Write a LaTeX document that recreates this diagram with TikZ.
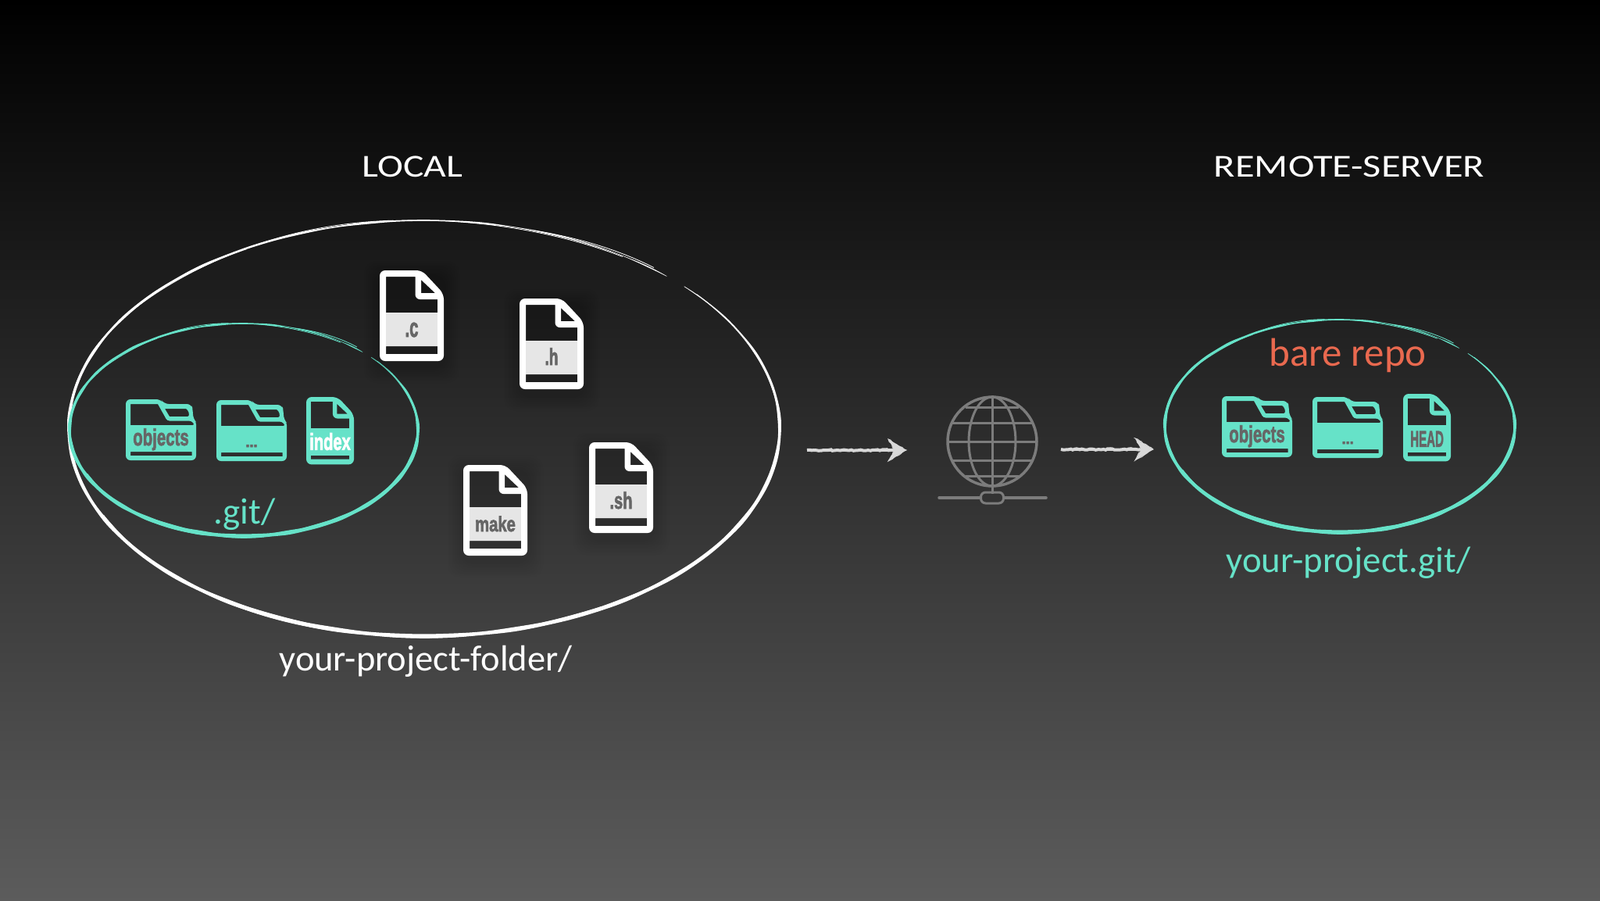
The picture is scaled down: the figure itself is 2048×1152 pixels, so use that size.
\documentclass[tikz,border=0pt]{standalone}
\usepackage{fontspec}
\setmainfont{Carlito}
\newfontfamily\iconfont{Liberation Sans}[BoldFeatures={FakeBold=2.6}]
\usetikzlibrary{arrows.meta,decorations.pathmorphing}
\definecolor{teal1}{HTML}{66E2C8}
\definecolor{salmon1}{HTML}{E9694F}
\definecolor{band1}{HTML}{E6E6E6}
\definecolor{icontext}{HTML}{666666}
\definecolor{globe1}{HTML}{7C7C7C}
\definecolor{chalk1}{HTML}{D8D8D8}
\newcommand{\iconlabel}[2]{\fontsize{#1}{#1}\selectfont\iconfont\bfseries #2}
\newcommand{\sketchring}[5]{%
  % cx cy rx ry colour
  \fill[#5] plot[domain=47:403,samples=361,variable=\t]
      ({#1+(#3+.5*th(\t-45,\t))*cos(\t)},{#2-(#4+.5*th(\t-45,\t))*sin(\t)})
    -- plot[domain=403:47,samples=361,variable=\t]
      ({#1+(#3-.5*th(\t-45,\t))*cos(\t)},{#2-(#4-.5*th(\t-45,\t))*sin(\t)}) -- cycle;
  \foreach \sa/\sb/\so/\sk in {50/72/-2.5/5,56/100/1.6/4,95/150/-1.8/6,120/175/1.2/5,205/262/-2.4/4,235/300/2.4/7,275/340/-1.8/5,300/350/1.4/6,350/400/-1.4/5}{
    \draw[#5,line width=.8pt] plot[domain=\sa:\sb,samples=50,variable=\t]
      ({#1+(#3+\so*sin(\sk*\t))*cos(\t)},{#2-(#4+\so*sin(\sk*\t))*sin(\t)});
  }%
}
\tikzset{
  x=1pt,y=-1pt,
  declare function={
    th(\d,\t)=max(.5,.7+4.3*min(min(1,\d/180),min(1,(360-\d)/60))+.35*sin(23*\t)+.25*sin(37*\t));
  },
  txt/.style={inner sep=0pt,font=\fontsize{#1}{#1}\selectfont},
  chalkarrow/.style={draw=chalk1,line width=3pt,-{Stealth[length=23pt,width=28pt,inset=8pt]}},
  chalkrough/.style={decorate,decoration={random steps,segment length=3pt,amplitude=.8pt}},
  chalkline/.style={draw=chalk1,line width=4pt,chalkrough},
  chalkedge/.style={draw=chalk1,line width=1pt,chalkrough},
  pics/filedrop/.style={code={
    \foreach \i in {1,...,8}{
      \fill[black,opacity=.014,rounded corners=16pt] (-\i*2.5,-\i*2.5+8) rectangle (82+\i*2.5,116+\i*2.5+8);
    }
  }},
  % colour, band colour, text, text colour, font size, xscale, strip top
  pics/fileicon/.style n args={7}{code={
    \fill[#1,even odd rule]
      [rounded corners=7pt] (0,0) -- (54,0) -- (82,30) -- (82,116) -- (0,116) -- cycle
      [rounded corners=0pt]
      (8,8) -- (45.5,8) [rounded corners=6pt] -- (45.5,37) [rounded corners=0pt] -- (74,37) -- (74,54) -- (8,54) -- cycle
      (53,12) -- (71,29) -- (53,29) -- cycle
      (8,#7) -- (74,#7) -- (74,107) -- (8,107) -- cycle;
    \fill[#2] (8,54) rectangle (74,#7);
    \node[inner sep=0pt,anchor=base,text=#4,xscale=#6] (-label) at (41,2*#7-109) {\iconlabel{#5}{#3}};
  }},
  % text, font size, xscale, text baseline
  pics/foldericon/.style n args={4}{code={
    \fill[teal1,even odd rule]
      [rounded corners=6pt] (0,0) -- (45,0) -- (49,6) -- (84,6) -- (86,14) -- (86,25) [rounded corners=3pt] -- (90,29) [rounded corners=6pt] -- (90,78) -- (0,78) -- cycle
      [rounded corners=0pt]
      (6,6) -- (41,6) [rounded corners=3pt] -- (53,27.5) -- (84,27.5) -- (88.5,33) [rounded corners=0pt] -- (6,33) -- cycle
      (50,12) -- (77,12) [rounded corners=2pt] -- (80.5,15) -- (81,22) [rounded corners=0pt] -- (56,22) -- cycle
      (6,67) -- (84.5,67) -- (84.5,72) -- (6,72) -- cycle;
    \node[inner sep=0pt,anchor=base,text=icontext,xscale=#3] (-label) at (45,#4) {\iconlabel{#2}{#1}};
  }},
}
\begin{document}
\begin{tikzpicture}
\useasboundingbox (0,0) rectangle (2048,1152);
\shade[top color=black,bottom color=black!64!white] (0,0) rectangle (2048,1152);

% sketched rings
\sketchring{543}{548}{455}{266}{white}
\sketchring{312}{550}{223}{136}{teal1}
\sketchring{1715}{545}{224}{136}{teal1}

% headings and captions
\node[txt=41,text=white,xscale=1.21] (local) at (528,213) {LOCAL};
\node[txt=41,text=white,xscale=1.23] (remote) at (1727,213) {REMOTE-SERVER};
\node[txt=47,text=teal1] (gitdir) at (313,658) {.git/};
\node[txt=46.5,text=white] (folder) at (545,846) {your-project-folder/};
\node[txt=51,text=salmon1] (bare) at (1725,455) {bare repo};
\node[txt=46.8,text=teal1] (bareproj) at (1726,720) {your-project.git/};

% local files
\pic at (486,346) {filedrop};
\pic at (665,382) {filedrop};
\pic at (593,595) {filedrop};
\pic at (754,566) {filedrop};
\pic (fc) at (486,346) {fileicon={white}{band1}{.c}{icontext}{34}{.6}{97}};
\pic (fh) at (665,382) {fileicon={white}{band1}{.h}{icontext}{30}{.64}{97}};
\pic (fm) at (593,595) {fileicon={white}{band1}{make}{icontext}{27}{.75}{97}};
\pic (fs) at (754,566) {fileicon={white}{band1}{.sh}{icontext}{30}{.67}{97}};

% .git content
\pic (lobj) at (161,511) {foldericon={objects}{30}{.68}{59}};
\pic (ldots) at (277,512) {foldericon={...}{20}{.9}{60}};
\pic[scale=.745] (lidx) at (392,508) {fileicon={teal1}{teal1}{index}{white}{30}{.67}{100}};

% bare repo content
\pic (robj) at (1564,507) {foldericon={objects}{30}{.68}{59}};
\pic (rdots) at (1680,508) {foldericon={...}{20}{.9}{60}};
\pic[scale=.745] (rhead) at (1796,504) {fileicon={teal1}{teal1}{HEAD}{icontext}{29}{.52}{100}};

% globe
\node[circle,draw=globe1,line width=3.5pt,minimum size=114pt,inner sep=0pt] (globe) at (1270,565) {};
\begin{scope}[globe1,line width=3pt]
  \draw (globe.north) -- (1270,632);
  \draw (1270,565) ellipse (30 and 57);
  \draw (1213,565) -- (1327,565);
  \draw (1218,541) -- (1322,541);
  \draw (1218,589) -- (1322,589);
  \draw (1236,521) -- (1304,521);
  \draw (1236,609) -- (1304,609);
\end{scope}
\node[draw=globe1,line width=3pt,rounded corners=6pt,minimum width=29pt,minimum height=14pt,inner sep=0pt] (hub) at (1270,637) {};
\coordinate (baseL) at (1202,637);
\coordinate (baseR) at (1339,637);
\draw[globe1,line width=3.5pt,line cap=round] (baseL) -- (hub.west);
\draw[globe1,line width=3.5pt,line cap=round] (hub.east) -- (baseR);

% arrows
\coordinate (a1s) at (1033,576);
\coordinate (a1e) at (1160,576);
\coordinate (a2s) at (1358,575);
\coordinate (a2e) at (1476,575);
\draw[chalkarrow] (a1s) -- (a1e);
\path[chalkline] (a1s) -- (1145,576);
\path[chalkedge] (a1e) -- ++(-23,-14) -- ++(8,14) -- ++(-8,14) -- cycle;
\draw[chalkarrow] (a2s) -- (a2e);
\path[chalkline] (a2s) -- (1460,575);
\path[chalkedge] (a2e) -- ++(-23,-14) -- ++(8,14) -- ++(-8,14) -- cycle;
\end{tikzpicture}
\end{document}
